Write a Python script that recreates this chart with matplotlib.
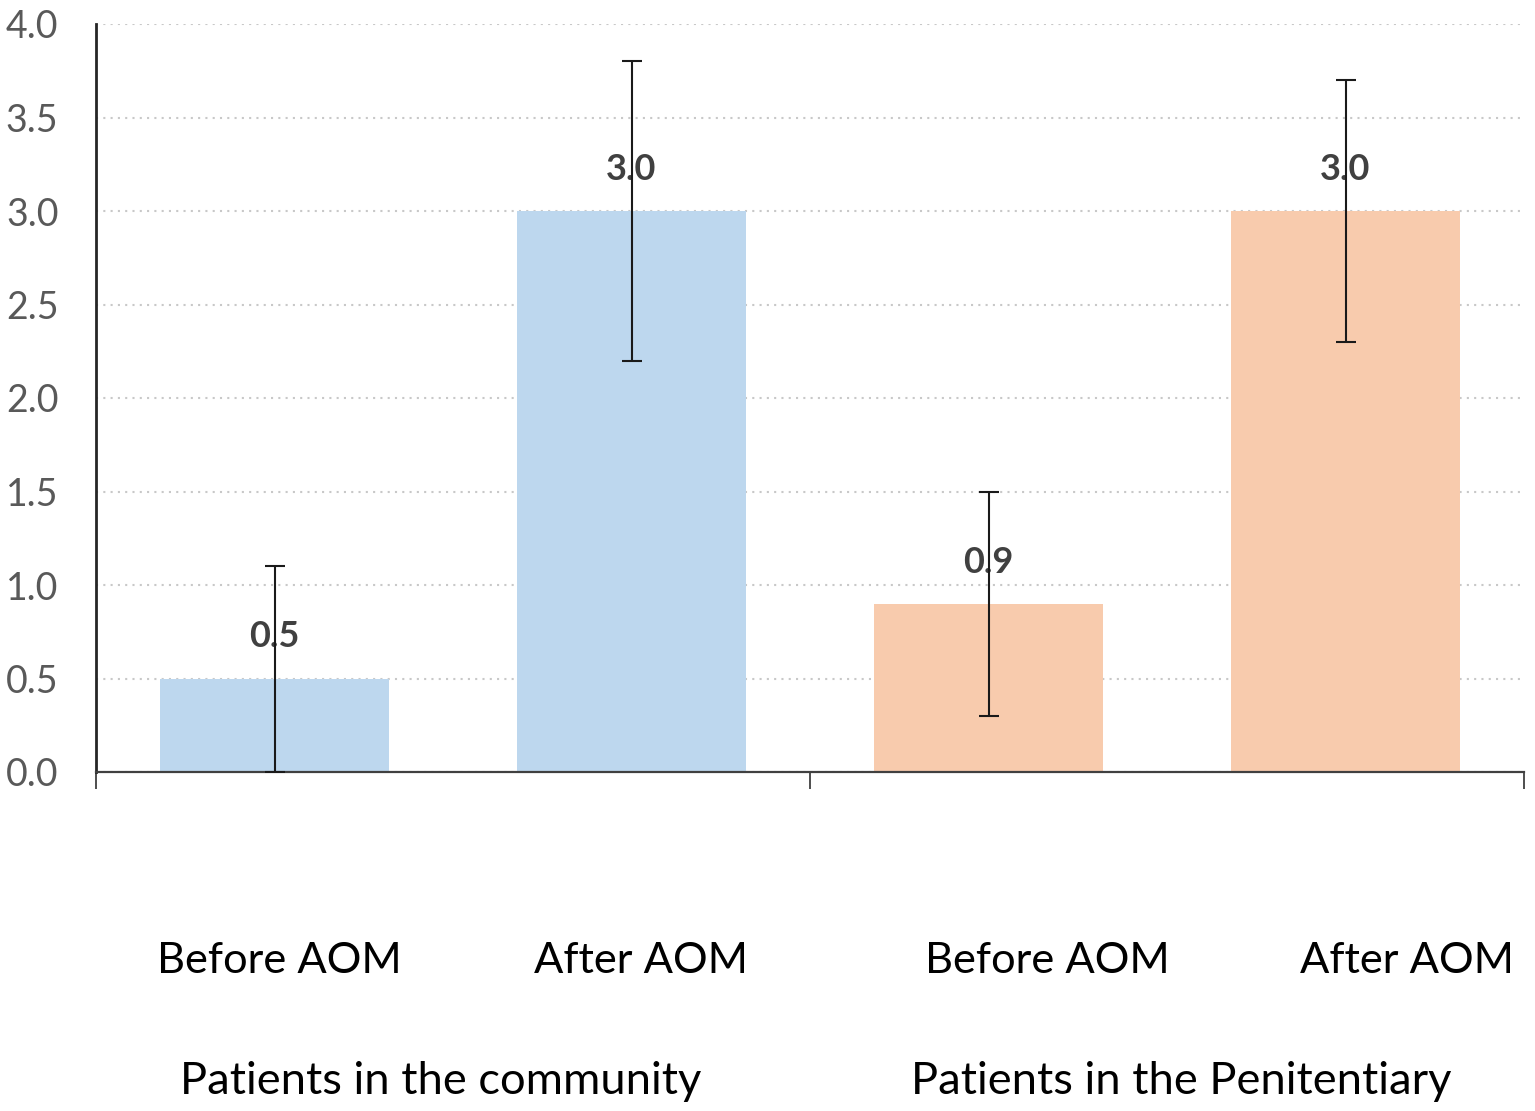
import matplotlib
matplotlib.use("Agg")
import matplotlib.pyplot as plt
import matplotlib.transforms as mtransforms

# ---- data ----
categories = ["Before AOM", "After AOM", "Before AOM", "After AOM"]
groups = ["Patients in the community", "Patients in the Penitentiary"]
values = [0.5, 3.0, 0.9, 3.0]
err_low = [0.5, 0.8, 0.6, 0.7]
err_high = [0.6, 0.8, 0.6, 0.7]
value_labels = ["0.5", "3.0", "0.9", "3.0"]
yticks = [0.0, 0.5, 1.0, 1.5, 2.0, 2.5, 3.0, 3.5, 4.0]
ytick_labels = ["0.0", "0.5", "1.0", "1.5", "2.0", "2.5", "3.0", "3.5", "4.0"]

colors = ["#BDD7EE", "#BDD7EE", "#F8CBAD", "#F8CBAD"]

plt.rcParams['font.family'] = ['Lato', 'DejaVu Sans']

fig = plt.figure(figsize=(15.35, 11.11), dpi=100)
ax = fig.add_axes([96/1535, 1-772/1111, (1524-96)/1535, (772-24)/1111])

x = list(range(len(values)))
ax.bar(x, values, width=0.64, color=colors, zorder=2)
ax.errorbar(x, values, yerr=[err_low, err_high], fmt='none', ecolor='#1a1a1a',
            elinewidth=1.5, capsize=7.5, capthick=1.5, zorder=4)

for xi, v, lab in zip(x, values, value_labels):
    ax.annotate(lab, (xi, v), xytext=(0, 30), textcoords='offset points',
                ha='center', va='center', fontsize=26, fontweight='bold',
                color='#404040', zorder=3)

ax.set_xlim(-0.5, 3.5)
ax.set_ylim(0, 4.0)
ax.set_yticks(yticks)
ax.set_yticklabels(ytick_labels, fontsize=27, color='#595959')
ax.tick_params(axis='y', length=0, pad=27)
ax.yaxis.grid(True, linestyle=(0, (1, 2.5)), color='#C8C8C8', linewidth=1.5, zorder=0)

# x axis: group separator ticks
ax.set_xticks([-0.5, 1.5, 3.5])
ax.set_xticklabels([])
ax.tick_params(axis='x', length=12, width=1.3, color='#404040', direction='out')

for s in ['top', 'right']:
    ax.spines[s].set_visible(False)
ax.spines['left'].set_color('#262626')
ax.spines['left'].set_linewidth(2)
ax.spines['bottom'].set_color('#404040')
ax.spines['bottom'].set_linewidth(1.6)

trans = mtransforms.blended_transform_factory(ax.transData, fig.transFigure)
label_x = [0.015, 1.027, 2.164, 3.172]
for lx, lab in zip(label_x, categories):
    ax.text(lx, 1-961/1111, lab, transform=trans, ha='center', va='center',
            fontsize=31.2, color='black')

group_x = [0.466, 2.54]
for gx, lab in zip(group_x, groups):
    ax.text(gx, 1-1081/1111, lab, transform=trans, ha='center', va='center',
            fontsize=32.6, color='black')

fig.savefig("out.png", dpi=100)
